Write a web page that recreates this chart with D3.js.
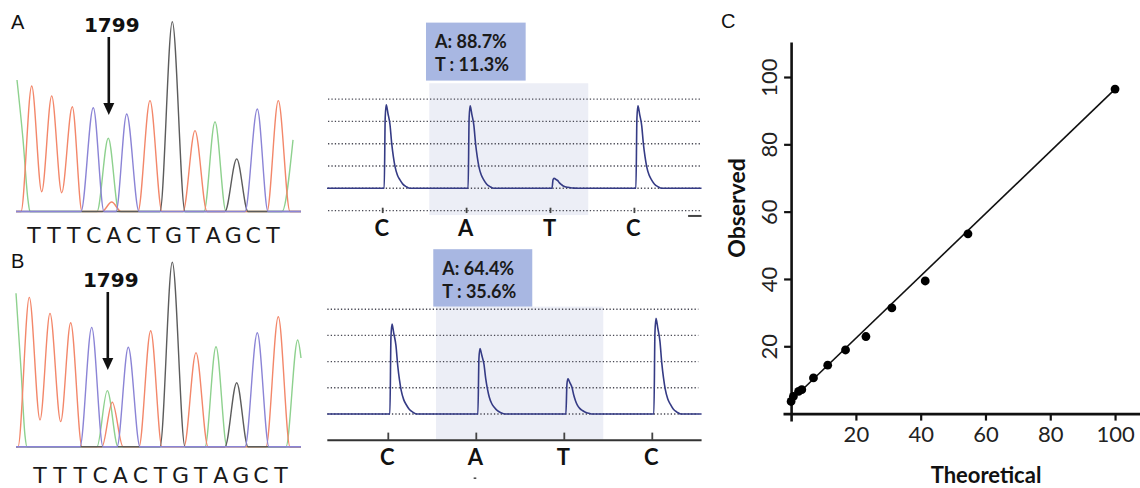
<!DOCTYPE html>
<html><head><meta charset="utf-8">
<script src="https://cdn.jsdelivr.net/npm/d3@7"></script>
<style>body{margin:0;background:#fff}svg{display:block}</style>
</head><body><svg id="c" width="1140" height="488"></svg>
<script>
// ---------- DATA ----------
// Sanger chromatograms: [scan, signal] vertices per dye channel
const sequence = "TTTCACTGTAGCT".split("");
const chromA_A = [[1,693],[7,380],[12,60],[14,0],[81,0],[92.3,386],[103,0],[188,0],[199,473],[210,0],[266,0],[277,377]];
const chromA_T = [[0,0],[5,0],[15.7,661],[25.7,104],[35.7,609],[45.7,99],[56.3,552],[66,0],[86,0],[95.7,50],[105,0],[122,0],[134,584],[146,0],[167,0],[179,426],[191,0],[251,0],[262.3,584],[274,0],[285,0]];
const chromA_C = [[0,0],[65,0],[77.3,547],[88,0],[100,0],[110.7,514],[123,0],[229,0],[241.3,540],[252,0],[285,0]];
const chromA_G = [[0,0],[144,0],[156.3,1000],[169,0],[209,0],[220.7,277],[232,0],[285,0]];
const chromB_A = [[0,832],[5,420],[9,60],[11,0],[81,0],[91.3,304],[102,0],[189,0],[200,542],[211,0],[270,0],[281.7,579],[285,481]];
const chromB_T = [[0,0],[2,0],[13.3,810],[24,145],[34,723],[44.7,136],[54.7,672],[66,0],[86,0],[96.3,241],[107,0],[123,0],[134.7,629],[146,0],[168,0],[180,510],[192,0],[250,0],[262.3,705],[274,0],[285,0]];
const chromB_C = [[0,0],[64,0],[75.7,647],[87,0],[101,0],[112.3,539],[124,0],[229,0],[241.3,618],[253,0],[285,0]];
const chromB_G = [[0,0],[144,0],[156.3,1000],[169,0],[209,0],[220.7,347],[232,0],[285,0]];
const snpScan = [92.3, 91.3];
const snpLabel = "1799";

// Pyrosequencing
const dispensation = ["C","A","T","C"];
const pyroA = [3.75, 3.7, 0.45, 3.7];
const pyroB = [3.43, 2.5, 1.34, 3.65];
const alleleA = ["A: 88.7%", "T : 11.3%"];
const alleleB = ["A: 64.4%", "T : 35.6%"];
const gridA = [-1, 0, 1, 2, 3, 4];
const gridB = [0, 1, 2, 3, 4];
// peak profile: [offset from dispensation (in dispensation units), fraction of height]
const peakProfile = [[0.018,0],[0.03,0.85],[0.042,1],[0.05,0.97],[0.062,0.9],[0.087,0.76],[0.107,0.54],[0.127,0.38],[0.147,0.26],[0.175,0.16],[0.206,0.1],[0.24,0.05],[0.28,0.02],[0.325,0]];

// Scatter (C)
const theoretical = [0, 0.7, 2.3, 3.3, 6.9, 11.3, 16.8, 23.1, 31.1, 41.4, 54.6, 100];
const observed    = [3.6, 5.1, 6.6, 7.1, 10.6, 14.4, 18.9, 22.9, 31.4, 39.4, 53.4, 96.4];
const fitLine = [[0, 3.9], [100, 96.4]];
const xTicksC = [20, 40, 60, 80, 100];
const yTicksC = [20, 40, 60, 80, 100];

// ---------- DRAW ----------
const svg = d3.select("#c");
const dyeColor = {A:"#8ed18e", T:"#f3876a", C:"#8b84d6", G:"#5c5c5c"};

function panelLabel(t, x, y){
  svg.append("text").attr("x",x).attr("y",y).text(t)
    .attr("font-family","Liberation Sans, Arial").attr("font-size",20).attr("fill","#111");
}

function chromatogram(ch, yRange, snp, seqRange, seqY, arrowTop, labelY){
  const x = d3.scaleLinear().domain([0,285]).range([16,301]);
  const y = d3.scaleLinear().domain([0,1000]).range(yRange);
  const line = d3.line().x(d=>x(d[0])).y(d=>y(d[1])).curve(d3.curveMonotoneX);
  const g = svg.append("g");
  [["A",ch.A],["T",ch.T],["G",ch.G],["C",ch.C]].forEach(([k,v])=>{
    g.append("path").attr("d",line(v)).attr("fill","none")
      .attr("stroke",dyeColor[k]).attr("stroke-width",1.4).attr("stroke-linejoin","round");
  });
  const sx = d3.scalePoint().domain(d3.range(sequence.length)).range(seqRange);
  g.selectAll(".seq").data(sequence).join("text")
    .attr("x",(d,i)=>sx(i)).attr("y",seqY).attr("text-anchor","middle")
    .attr("font-family","DejaVu Sans, Verdana").attr("font-size",22).attr("fill","#1a1a1a").text(d=>d);
  const ax = x(snp)+0.5;
  const tip = arrowTop[1];
  g.append("line").attr("x1",ax).attr("x2",ax).attr("y1",arrowTop[0]).attr("y2",tip-8)
    .attr("stroke","#111").attr("stroke-width",2.6);
  g.append("path").attr("d",`M${ax-5.5},${tip-12} L${ax+5.5},${tip-12} L${ax},${tip} Z`).attr("fill","#111");
  g.append("text").attr("x",ax+3).attr("y",labelY).attr("text-anchor","middle")
    .attr("font-family","DejaVu Sans, Verdana").attr("font-weight","bold").attr("font-size",20)
    .attr("fill","#111").text(snpLabel);
}

panelLabel("A", 11, 29);
panelLabel("B", 11, 268);
panelLabel("C", 721, 28);

chromatogram({A:chromA_A,T:chromA_T,C:chromA_C,G:chromA_G},[211.5,21.7],snpScan[0],[34,273],243,[37,115],32);
chromatogram({A:chromB_A,T:chromB_T,C:chromB_C,G:chromB_G},[446.7,262.3],snpScan[1],[40,281],483,[292,370],287);

function pyro(vals, alleles, grid, xr, yr, opt){
  const x = d3.scaleLinear().domain([0,1]).range(xr);
  const y = d3.scaleLinear().domain([0,1]).range(yr);
  const g = svg.append("g");
  g.append("rect").attr("x",x(opt.shade[0])).attr("width",x(opt.shade[1])-x(opt.shade[0]))
    .attr("y",y(opt.shade[2])).attr("height",y(opt.shade[3])-y(opt.shade[2])).attr("fill","#eceef6");
  g.append("rect").attr("x",x(opt.box[0])).attr("width",x(opt.box[1])-x(opt.box[0]))
    .attr("y",y(opt.box[2])).attr("height",y(opt.box[3])-y(opt.box[2])).attr("fill","#a8b7e2");
  alleles.forEach((t,i)=>{
    g.append("text").attr("x",x(opt.box[0])+9).attr("y",y(opt.box[2])+25.3+i*23.3)
      .attr("font-family","Lato, sans-serif").attr("font-weight","bold").attr("font-size",18)
      .attr("fill","#1a1a1a").text(t);
  });
  g.selectAll(".grid").data(grid).join("line")
    .attr("x1",x(opt.grid[0])).attr("x2",x(opt.grid[1])).attr("y1",d=>y(d)).attr("y2",d=>y(d))
    .attr("stroke","#4a4a55").attr("stroke-width",1.4).attr("stroke-dasharray","1.3 2.1");
  const pts = [[opt.trace[0],0]];
  vals.forEach((v,i)=>peakProfile.forEach(p=>pts.push([i+p[0], v*p[1]])));
  pts.push([opt.trace[1],0]);
  const line = d3.line().x(d=>x(d[0])).y(d=>y(d[1])).curve(d3.curveMonotoneX);
  g.append("path").attr("d",line(pts)).attr("fill","none").attr("stroke","#353b85").attr("stroke-width",1.6);
  if(opt.axis){
    g.append("line").attr("x1",x(opt.trace[0])).attr("x2",x(opt.trace[1])).attr("y1",y(-1)).attr("y2",y(-1))
      .attr("stroke","#333").attr("stroke-width",2);
  }
  g.selectAll(".tk").data(dispensation).join("line")
    .attr("x1",(d,i)=>x(i)).attr("x2",(d,i)=>x(i)).attr("y1",y(opt.tick[0])).attr("y2",y(opt.tick[1]))
    .attr("stroke","#444").attr("stroke-width",1.8);
  g.selectAll(".lb").data(dispensation).join("text")
    .attr("x",(d,i)=>x(i)-1).attr("y",y(-1)+opt.labelDy).attr("text-anchor","middle")
    .attr("font-family","Lato, sans-serif").attr("font-weight","bold").attr("font-size",22)
    .attr("fill","#111").text(d=>d);
  if(opt.dash){
    g.append("line").attr("x1",x(opt.dash[0])).attr("x2",x(opt.dash[1])).attr("y1",y(opt.dash[2])).attr("y2",y(opt.dash[2]))
      .attr("stroke","#444").attr("stroke-width",opt.dash[3]);
  }
}

pyro(pyroA, alleleA, gridA, [382.7,466.6], [188.3,166], {
  shade:[0.555,2.45,4.71,-1.2], box:[0.516,1.704,7.43,4.83],
  grid:[-0.652,3.782], trace:[-0.664,3.80], tick:[-0.87,-1.11], labelDy:25.5,
  dash:[3.64,3.80,-1.24,2]
});
pyro(pyroB, alleleB, gridB, [388.3,476.3], [414,387.8], {
  shade:[0.542,2.443,4.1,-0.97], box:[0.511,1.636,6.29,4.1],
  grid:[-0.693,3.523], trace:[-0.693,3.56], tick:[-1,-0.71], labelDy:24.5, axis:true,
  dash:[0.97,1.0,-2.45,1.5]
});

// ---------- Panel C scatter ----------
const xC = d3.scaleLinear().domain([-2.5,107.7]).range([783,1140]);
const yC = d3.scaleLinear().domain([-2.2,110.4]).range([421,42]);
const gC = svg.append("g");
const xAxis = d3.axisBottom(xC).tickValues(xTicksC).tickSize(7).tickSizeOuter(0).tickPadding(6);
const yAxis = d3.axisLeft(yC).tickValues(yTicksC).tickSize(7).tickSizeOuter(0).tickPadding(4);
const gx = gC.append("g").attr("transform",`translate(0,${yC(0)})`).call(xAxis);
const gy = gC.append("g").attr("transform",`translate(${xC(0)},0)`).call(yAxis);
[gx,gy].forEach(a=>{
  a.select(".domain").attr("stroke","#111").attr("stroke-width",2.6);
  a.selectAll(".tick line").attr("stroke","#111").attr("stroke-width",2.2);
  a.selectAll(".tick text").attr("font-family","Lato, sans-serif").attr("font-size",22).attr("fill","#222");
});
gy.selectAll(".tick text").attr("text-anchor","middle").attr("x",0).attr("y",0).attr("dy","0.32em")
  .attr("transform","translate(-21,0) rotate(-90)");
gC.append("line").attr("x1",xC(fitLine[0][0])).attr("y1",yC(fitLine[0][1]))
  .attr("x2",xC(fitLine[1][0])).attr("y2",yC(fitLine[1][1])).attr("stroke","#111").attr("stroke-width",1.6);
gC.selectAll(".pt").data(theoretical).join("circle")
  .attr("cx",d=>xC(d)).attr("cy",(d,i)=>yC(observed[i])).attr("r",4.4).attr("fill","#000");
gC.append("text").attr("x",986).attr("y",483).attr("text-anchor","middle")
  .attr("font-family","Lato, sans-serif").attr("font-weight","bold").attr("font-size",22).attr("fill","#111").text("Theoretical");
gC.append("text").attr("transform","translate(745,208) rotate(-90)").attr("text-anchor","middle")
  .attr("font-family","Lato, sans-serif").attr("font-weight","bold").attr("font-size",23).attr("fill","#111").text("Observed");
</script></body></html>
